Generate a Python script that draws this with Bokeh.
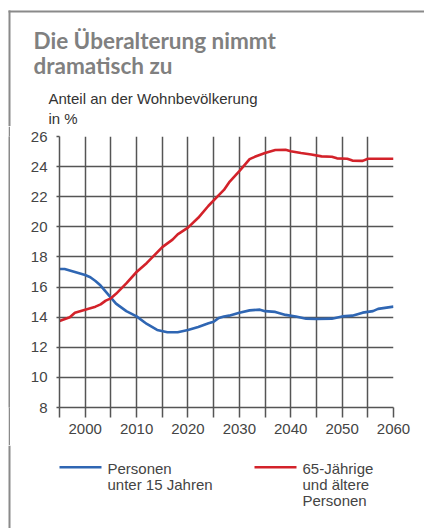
from bokeh.plotting import figure
from bokeh.models import FixedTicker, Label, Range1d, Spacer
from bokeh.layouts import column, row
from bokeh.embed import file_html
from bokeh.resources import INLINE

# ---- data ----
years_young = [1995, 1996, 1998, 2000, 2001, 2002, 2003, 2005, 2006, 2007, 2008, 2010,
               2012, 2014, 2016, 2018, 2020, 2022, 2024, 2025, 2026, 2027, 2028, 2030,
               2032, 2034, 2035, 2037, 2039, 2041, 2043, 2045, 2048, 2050, 2052, 2054,
               2056, 2057, 2058, 2060]
share_young = [17.2, 17.2, 17.0, 16.8, 16.65, 16.4, 16.1, 15.3, 14.9, 14.65, 14.4, 14.05,
               13.55, 13.15, 13.0, 13.0, 13.15, 13.35, 13.6, 13.7, 13.95, 14.05, 14.1, 14.3,
               14.45, 14.5, 14.4, 14.35, 14.15, 14.05, 13.9, 13.88, 13.9, 14.05, 14.1, 14.3,
               14.4, 14.55, 14.6, 14.7]

years_old = [1995, 1997, 1998, 2000, 2002, 2003, 2004, 2005, 2006, 2008, 2010, 2012,
             2013, 2015, 2017, 2018, 2020, 2022, 2024, 2026, 2027, 2028, 2030, 2031,
             2032, 2033, 2035, 2037, 2039, 2040, 2042, 2044, 2046, 2048, 2049, 2051,
             2052, 2054, 2055, 2060]
share_old = [13.75, 14.0, 14.3, 14.5, 14.7, 14.85, 15.1, 15.25, 15.55, 16.25, 17.0, 17.6,
             17.95, 18.65, 19.15, 19.5, 19.95, 20.6, 21.4, 22.1, 22.45, 22.95, 23.7, 24.1,
             24.5, 24.65, 24.9, 25.1, 25.12, 25.02, 24.9, 24.8, 24.68, 24.66, 24.55, 24.52,
             24.4, 24.38, 24.52, 24.52]

x_labels = [2000, 2010, 2020, 2030, 2040, 2050, 2060]
x_minor = [1995, 2005, 2015, 2025, 2035, 2045, 2055]
y_ticks = [8, 10, 12, 14, 16, 18, 20, 22, 24, 26]
grid_x = [1995, 2000, 2005, 2010, 2015, 2020, 2025, 2030, 2035, 2040, 2045, 2050, 2055, 2060]

title_lines = ["Die Überalterung nimmt", "dramatisch zu"]
subtitle_lines = ["Anteil an der Wohnbevölkerung", "in %"]
legend_young = ["Personen", "unter 15 Jahren"]
legend_old = ["65-Jährige", "und ältere", "Personen"]

BLUE = "#2f66b3"
RED = "#d3222a"
GRID = "#555555"
BORDER = "#8a8a8a"
FONT = "Liberation Sans"

TOTAL_W = 424
HEAD_H = 126
MAIN_H = 319
FOOT_H = 83
PAD_L = 8      # white space left of the frame border
BORDER_W = 2   # width of the frame border
PAD_R = 10     # space between border and chart canvas


def blank(w, h, fill="white"):
    f = figure(width=w, height=h, output_backend="svg", toolbar_location=None,
               title=None,
               x_range=Range1d(0, w), y_range=Range1d(h, 0),
               x_axis_location=None, y_axis_location=None,
               min_border=0, min_border_left=0, min_border_right=0,
               min_border_top=0, min_border_bottom=0)
    f.grid.visible = False
    f.outline_line_color = None
    f.background_fill_color = fill
    f.border_fill_color = fill
    return f


def txt(f, s, px, py, size, color, font=FONT, style="normal"):
    f.add_layout(Label(x=px, y=py, text=s, text_font=font,
                       text_font_size=size, text_color=color,
                       text_font_style=style, text_baseline="alphabetic",
                       text_align="left"))


BX = PAD_L + BORDER_W / 2

# ---- head: border, title, subtitle ----
head = blank(TOTAL_W, HEAD_H)
head.segment(x0=[PAD_L], y0=[11], x1=[TOTAL_W], y1=[11], line_color=BORDER, line_width=1.8)
head.segment(x0=[BX], y0=[10.1], x1=[BX], y1=[HEAD_H], line_color=BORDER, line_width=BORDER_W)
for i, s in enumerate(title_lines):
    txt(head, s, 33, 40 + 25 * i, "22.5px", "#808080", font="Lato", style="bold")
for i, s in enumerate(subtitle_lines):
    txt(head, s, 48, 98 + 20 * i, "15px", "#333333")

# ---- left border piece next to the chart: a tiny fully filled canvas ----
border_piece = blank(BORDER_W, MAIN_H, fill=BORDER)

# ---- main chart ----
STRIP_W = PAD_L + BORDER_W + PAD_R
MW = TOTAL_W - STRIP_W
FL, FR, FT, FB = 59 - STRIP_W, 393 - STRIP_W, 136 - HEAD_H, 407 - HEAD_H
p = figure(width=MW, height=MAIN_H, output_backend="svg", toolbar_location=None,
           title=None,
           x_range=Range1d(1995, 2060), y_range=Range1d(8, 26),
           min_border_left=FL, min_border_right=MW - FR,
           min_border_top=FT, min_border_bottom=MAIN_H - FB)
p.outline_line_color = None
p.background_fill_color = "white"
p.border_fill_color = "white"

p.xgrid.ticker = FixedTicker(ticks=grid_x)
p.ygrid.ticker = FixedTicker(ticks=y_ticks)
for g in (p.xgrid[0], p.ygrid[0]):
    g.grid_line_color = GRID
    g.grid_line_width = 1.5

p.xaxis.ticker = FixedTicker(ticks=x_labels, minor_ticks=x_minor)
p.yaxis.ticker = FixedTicker(ticks=y_ticks)
for ax in (p.xaxis[0], p.yaxis[0]):
    ax.axis_line_color = GRID
    ax.axis_line_width = 1.5
    ax.major_tick_line_color = GRID
    ax.major_tick_line_width = 1.5
    ax.minor_tick_line_color = GRID
    ax.minor_tick_line_width = 1.5
    ax.major_tick_in = 0
    ax.minor_tick_in = 0
    ax.major_label_text_font = FONT
    ax.major_label_text_font_size = "15px"
    ax.major_label_text_color = "#444444"
p.xaxis.major_tick_out = 10
p.xaxis.minor_tick_out = 10
p.xaxis.major_label_standoff = 6
p.yaxis.major_tick_out = 3
p.yaxis.minor_tick_out = 0
p.yaxis.major_label_standoff = 9

p.line(years_young, share_young, line_color=BLUE, line_width=2.6)
p.line(years_old, share_old, line_color=RED, line_width=2.6)

# ---- foot: legend ----
foot = blank(TOTAL_W, FOOT_H)
foot.segment(x0=[BX], y0=[0], x1=[BX], y1=[FOOT_H], line_color=BORDER, line_width=BORDER_W)
foot.segment(x0=[59, 254], y0=[21.7, 21.7], x1=[101, 296], y1=[21.7, 21.7],
             line_color=[BLUE, RED], line_width=2.6)
for i, s in enumerate(legend_young):
    txt(foot, s, 107, 22.7 + 16.2 * i, "15px", "#444444")
for i, s in enumerate(legend_old):
    txt(foot, s, 302, 22.7 + 16.2 * i, "15px", "#444444")

middle = row(Spacer(width=PAD_L, height=MAIN_H, margin=0), border_piece,
             Spacer(width=PAD_R, height=MAIN_H, margin=0), p)
layout = column(head, middle, foot)
open("out.html", "w").write(file_html(layout, INLINE))
